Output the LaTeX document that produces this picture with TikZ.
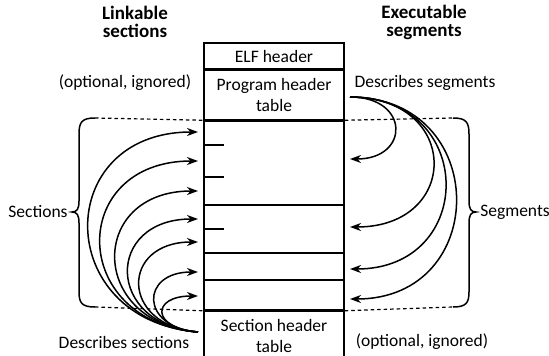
\documentclass[tikz,border=0pt]{standalone}
\usepackage{fontspec}
\setmainfont{Carlito}
\usetikzlibrary{arrows.meta,positioning}

\begin{document}
\begin{tikzpicture}[x=1pt, y=-1pt, line width=1.5pt,
        cell/.style = {draw, minimum width=140pt, inner sep=0pt, align=center, font=\fontsize{17.5}{21}\selectfont},
        lbl/.style = {align=center, inner sep=0pt, font=\fontsize{17.5}{21}\selectfont},
        hd/.style = {align=center, inner sep=0pt, font=\fontsize{19}{18}\selectfont\bfseries},
        arr/.style = {-{Stealth[length=11pt,width=8pt,inset=3.5pt]}},
        dsh/.style = {dash pattern=on 3.5pt off 3pt, line width=1.2pt}]

        \useasboundingbox (0,0) rectangle (549,356);

        % file layout
        \node[cell, minimum height=26pt] (elf) at (274,56) {ELF header};
        \node[cell, minimum height=49pt, below=0pt of elf] (pht) {Program header\\table};
        \node[cell, minimum height=189pt, below=0pt of pht] (body) {};
        \node[cell, minimum height=48pt, below=0pt of body] (sht) {Section header\\table};

        \foreach \yy in {205,253,280}
            \draw (204,\yy) -- (344,\yy);
        \foreach \yy in {145,177,229}
            \draw (204,\yy) -- +(20,0);

        % headings and labels
        \node[hd] (lnk) at (135,22) {Linkable\\sections};
        \node[hd] (exe) at (424,22) {Executable\\segments};
        \node[lbl] (optl) at (125,83) {(optional, ignored)};
        \node[lbl] (dseg) at (425,83) {Describes segments};
        \node[lbl] (dsec) at (124,342) {Describes sections};
        \node[lbl] (optr) at (422,342) {(optional, ignored)};
        \node[lbl] (secl) at (38,212) {Sections};
        \node[lbl] (segl) at (515,212) {Segments};

        % dashed limits and braces
        \draw[dsh] (95,118) -- (body.north west);
        \draw[dsh] (95,307) -- (body.south west);
        \draw[dsh] (body.north east) -- (453,118);
        \draw[dsh] (body.south east) -- (453,307);

        \draw (95,118) .. controls (82,118) and (79,122) .. (79,134) -- (79,201)
            .. controls (79,209) and (77,212) .. (72,212)
            .. controls (77,212) and (79,215) .. (79,223) -- (79,292)
            .. controls (79,303) and (82,307) .. (95,307);
        \draw (453,118) .. controls (466,118) and (469,122) .. (469,134) -- (469,201)
            .. controls (469,209) and (471,212) .. (476,212)
            .. controls (471,212) and (469,215) .. (469,223) -- (469,292)
            .. controls (469,303) and (466,307) .. (453,307);

        % section header table -> sections
        \coordinate (secsrc) at (198,332);
        \foreach \ty/\d [count=\i] in {132/146,161/130,191/110,219/93,242/78,272/58,296/47} {
            \coordinate (sec\i) at (198,\ty);
            \draw[arr] (secsrc) .. controls +(-\d,-0.08*\d) and +(-\d,0) .. (sec\i);
        }

        % program header table -> segments
        \coordinate (segsrc) at (350,97);
        \foreach \ty/\d [count=\i] in {159/60,227/111,269/127,299/141} {
            \coordinate (seg\i) at (350,\ty);
            \draw[arr] (segsrc) .. controls +(\d,0) and +(\d,0) .. (seg\i);
        }
\end{tikzpicture}
\end{document}
